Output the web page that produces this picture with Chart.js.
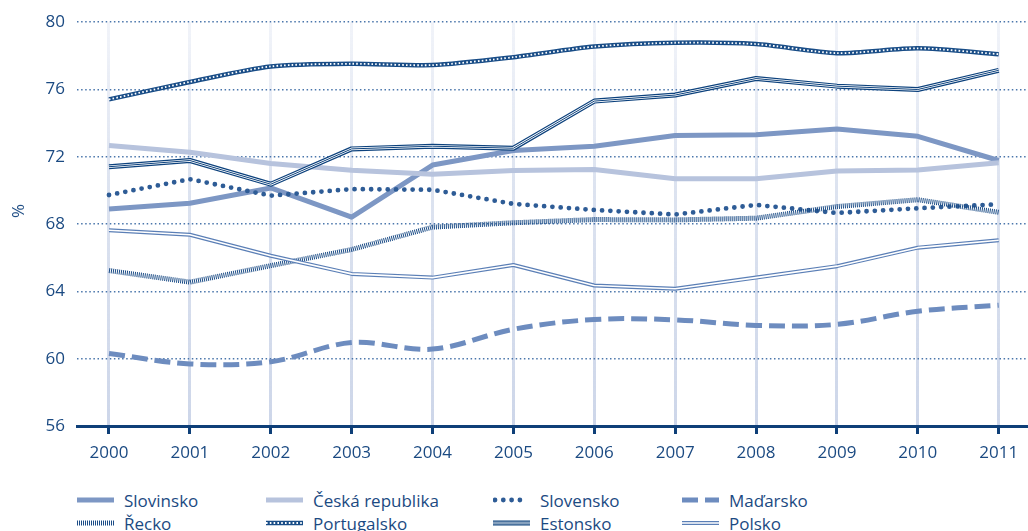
<!DOCTYPE html>
<html><head><meta charset="utf-8">
<script src="https://cdn.jsdelivr.net/npm/chart.js@4/dist/chart.umd.min.js"></script>
<style>
body{margin:0;background:#fff;width:1028px;height:531px;overflow:hidden;position:relative;font-family:'Open Sans',sans-serif;color:#1b4a82}
#wrap{position:absolute;left:0;top:0;width:1028px;height:470px}
#ylab{position:absolute;left:18px;top:211px;transform:translate(-50%,-50%) rotate(-90deg);font-size:17px;line-height:18px}
.li{position:absolute;display:flex;align-items:center;font-size:17px;height:22px;white-space:nowrap}
.li canvas{margin-right:10px;display:block}
</style></head><body>
<div id="wrap"><canvas id="c" width="1028" height="470"></canvas></div>
<div id="ylab">%</div>
<div id="legend"></div>
<script>
// ---- data ----
const years = [2000, 2001, 2002, 2003, 2004, 2005, 2006, 2007, 2008, 2009, 2010, 2011];
const yTicks = [56, 60, 64, 68, 72, 76, 80];
const seriesNames = ['Slovinsko', 'Česká republika', 'Slovensko', 'Maďarsko', 'Řecko', 'Portugalsko', 'Estonsko', 'Polsko'];
const slovinsko   = [68.9, 69.24, 70.15, 68.41, 71.51, 72.37, 72.63, 73.27, 73.31, 73.65, 73.22, 71.78];
const ceskaRep    = [72.67, 72.27, 71.6, 71.2, 70.96, 71.18, 71.25, 70.7, 70.7, 71.16, 71.22, 71.65];
const slovensko   = [69.73, 70.67, 69.69, 70.08, 70.04, 69.2, 68.84, 68.57, 69.14, 68.66, 68.94, 69.18];
const madarsko    = [60.31, 59.69, 59.82, 60.96, 60.57, 61.75, 62.33, 62.31, 61.98, 62.04, 62.82, 63.18];
const recko       = [65.24, 64.55, 65.53, 66.49, 67.82, 68.08, 68.27, 68.25, 68.35, 69.04, 69.45, 68.7];
const portugalsko = [75.41, 76.45, 77.37, 77.53, 77.45, 77.92, 78.55, 78.78, 78.7, 78.16, 78.45, 78.1];
const estonsko    = [71.41, 71.78, 70.37, 72.47, 72.63, 72.51, 75.31, 75.67, 76.65, 76.2, 76.0, 77.14];
const polsko      = [67.63, 67.37, 66.12, 65.04, 64.82, 65.57, 64.35, 64.16, 64.82, 65.5, 66.6, 67.04];
const seriesValues = [slovinsko, ceskaRep, slovensko, madarsko, recko, portugalsko, estonsko, polsko];

// ---- styles ----
const TEXT = '#1b4a82';
const DARK = '#0e3f78';
const styles = [
  {layers: [{c: '#7d97c4', w: 5}]},
  {layers: [{c: '#b7c3dd', w: 5}]},
  {layers: [{c: '#2e5c96', w: 4.8, dash: [0, 8.3], cap: 'round'}]},
  {layers: [{c: '#6d8cbf', w: 5, dash: [16, 7]}], tension: 0.35},
  {layers: [{c: '#1b4c86', w: 5, dash: [1, 1]}]},
  {layers: [{c: '#194d87', w: 4.5}, {c: '#ffffff', w: 1.8, dash: [1.6, 2.2]}], tension: 0.25},
  {layers: [{c: '#0d427d', w: 5}, {c: '#ffffff', w: 2.6}, {c: '#0d427d', w: 1}]},
  {layers: [{c: '#5b7fb6', w: 4}, {c: '#ffffff', w: 1.6}]}
];
const FONT = "'Open Sans',sans-serif";

const datasets = [];
let k = 0;
seriesNames.forEach((name, si) => {
  const st = styles[si];
  st.layers.forEach(L => {
    datasets.push({
      label: name,
      data: years.map((yr, i) => ({x: yr, y: seriesValues[si][i]})),
      borderColor: L.c,
      borderWidth: L.w,
      borderDash: L.dash || [],
      borderCapStyle: L.cap || 'butt',
      borderJoinStyle: 'round',
      tension: st.tension || 0,
      pointRadius: 0,
      fill: false,
      order: -(k++)
    });
  });
});

const vGrid = (ctx) => {
  const ch = ctx.chart;
  const a = ch.chartArea;
  if (!a) return '#d3dbeb';
  const g = ch.ctx.createLinearGradient(0, a.top, 0, a.bottom);
  g.addColorStop(0, 'rgba(215,222,238,0.35)');
  g.addColorStop(0.4, 'rgba(212,220,236,0.8)');
  g.addColorStop(1, '#cdd6e9');
  return g;
};

new Chart(document.getElementById('c'), {
  type: 'line',
  data: {datasets},
  options: {
    responsive: false,
    animation: false,
    layout: {padding: {top: 18, left: 0, right: 0, bottom: 0}},
    plugins: {legend: {display: false}, tooltip: {enabled: false}},
    scales: {
      x: {
        type: 'linear',
        min: 1999.6044,
        max: 2011.3623,
        afterBuildTicks: (s) => { s.ticks = years.map(v => ({value: v})); },
        afterFit: (s) => { s.height = 44; },
        ticks: {color: TEXT, font: {family: FONT, size: 17}, padding: 9, maxRotation: 0, autoSkip: false,
                callback: (v) => String(v)},
        grid: {color: vGrid, lineWidth: 3, drawTicks: true, tickLength: 8, tickColor: DARK, tickWidth: 3},
        border: {display: true, color: DARK, width: 3}
      },
      y: {
        min: 56, max: 80,
        afterBuildTicks: (s) => { s.ticks = yTicks.map(v => ({value: v})); },
        afterFit: (s) => { s.width = 77; },
        ticks: {color: TEXT, font: {family: FONT, size: 17}, padding: 12},
        grid: {color: '#4a76ab', lineWidth: 1.5, drawTicks: false, tickLength: 0},
        border: {display: false, dash: [1.5, 2.6]}
      }
    }
  }
});

// ---- HTML legend ----
const colX = [77, 266, 493, 682];
const rowY = [489, 512];
const leg = document.getElementById('legend');
seriesNames.forEach((name, si) => {
  const d = document.createElement('div');
  d.className = 'li';
  d.style.left = colX[si % 4] + 'px';
  d.style.top = rowY[Math.floor(si / 4)] + 'px';
  const cv = document.createElement('canvas');
  cv.width = 37; cv.height = 10;
  const c = cv.getContext('2d');
  styles[si].layers.forEach(L => {
    c.beginPath();
    c.strokeStyle = L.c; c.lineWidth = L.w;
    c.setLineDash(L.dash || []);
    c.lineCap = L.cap || 'butt';
    const off = (L.cap === 'round') ? 2 : 0;
    c.moveTo(off, 5); c.lineTo(37 - off, 5); c.stroke();
  });
  d.appendChild(cv);
  const t = document.createElement('span');
  t.textContent = name;
  d.appendChild(t);
  leg.appendChild(d);
});
</script>
</body></html>
